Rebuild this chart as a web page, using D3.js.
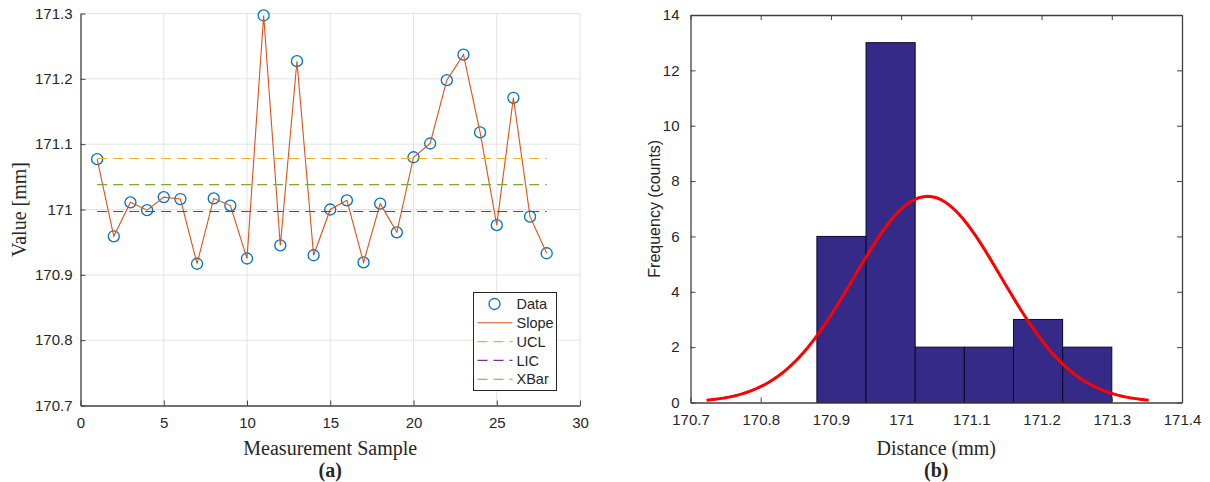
<!DOCTYPE html>
<html>
<head>
<meta charset="utf-8">
<script src="https://cdn.jsdelivr.net/npm/d3@7"></script>
<style>
  html, body { margin: 0; padding: 0; background: #fff; }
  svg { display: block; }
  .tick-label { font-family: "Liberation Sans", Arial, sans-serif; font-size: 15px; fill: #262626; }
  .legend-label { font-family: "Liberation Sans", Arial, sans-serif; font-size: 14.5px; fill: #262626; }
  .serif-title { font-family: "Liberation Serif", "Times New Roman", serif; font-size: 20px; fill: #262626; }
</style>
</head>
<body>
<svg id="chart" width="1210" height="482"></svg>
<script>
// ---- measurement data (control chart) ----
const samples = [1,2,3,4,5,6,7,8,9,10,11,12,13,14,15,16,17,18,19,20,21,22,23,24,25,26,27,28];
const values = [171.077,170.959,171.011,170.999,171.019,171.016,170.917,171.017,171.006,170.925,
                171.297,170.945,171.227,170.930,171.000,171.014,170.919,171.009,170.965,171.080,
                171.101,171.198,171.237,171.118,170.976,171.171,170.989,170.933];
const ucl = 171.078;
const lic = 170.997;
const xbar = 171.038;

// axis ticks of the control chart
const xTicksA = [0,5,10,15,20,25,30];
const yTicksA = [170.7,170.8,170.9,171,171.1,171.2,171.3];

// ---- histogram of the same measurements ----
const binEdges = [170.880,170.950,171.020,171.090,171.160,171.230,171.300];
const binCounts = [6,13,2,2,3,2];
const xTicksB = [170.7,170.8,170.9,171,171.1,171.2,171.3,171.4];
const yTicksB = [0,2,4,6,8,10,12,14];

const colors = {
  data: "#0072BD", slope: "#D95319", ucl: "#EDB120", lic: "#7E2F8E", xbar: "#77AC30",
  bar: "#352A87", fit: "#FF0000", axis: "#404040", grid: "#E3E3E3", text: "#262626"
};

const svg = d3.select("#chart");
const fmt = d => String(+d.toFixed(1));

// ================= (a) control chart =================
const A = { left: 80.5, right: 580, top: 13.5, bottom: 405.5 };
const xA = d3.scaleLinear().domain([0, 30]).range([A.left, A.right]);
const yA = d3.scaleLinear().domain([170.7, 171.3]).range([A.bottom, A.top]);
const gA = svg.append("g");

// grid
gA.append("g").selectAll("line").data(xTicksA.slice(1)).join("line")
  .attr("x1", d => xA(d)).attr("x2", d => xA(d)).attr("y1", A.top).attr("y2", A.bottom)
  .attr("stroke", colors.grid).attr("stroke-width", 1);
gA.append("g").selectAll("line").data(yTicksA.slice(1)).join("line")
  .attr("x1", A.left).attr("x2", A.right).attr("y1", d => yA(d)).attr("y2", d => yA(d))
  .attr("stroke", colors.grid).attr("stroke-width", 1);

// axes (ticks inward)
const axBottomA = gA.append("g").attr("transform", `translate(0,${A.bottom})`)
  .call(d3.axisBottom(xA).tickValues(xTicksA).tickSizeInner(-5).tickSizeOuter(0).tickPadding(12).tickFormat(d3.format("d")));
const axLeftA = gA.append("g").attr("transform", `translate(${A.left},0)`)
  .call(d3.axisLeft(yA).tickValues(yTicksA).tickSizeInner(-5).tickSizeOuter(0).tickPadding(8).tickFormat(fmt));
[axBottomA, axLeftA].forEach(ax => {
  ax.attr("font-size", null).attr("font-family", null);
  ax.select(".domain").attr("stroke", colors.axis).attr("stroke-width", 1.3);
  ax.selectAll(".tick line").attr("stroke", colors.axis);
  ax.selectAll(".tick text").attr("class", "tick-label");
});

// data markers
gA.append("g").selectAll("circle").data(samples).join("circle")
  .attr("cx", (d) => xA(d)).attr("cy", (d, i) => yA(values[i])).attr("r", 5.5)
  .attr("fill", "none").attr("stroke", colors.data).attr("stroke-width", 1.3);

// connecting line
const lineA = d3.line().x(d => xA(d[0])).y(d => yA(d[1]));
gA.append("path").datum(samples.map((s, i) => [s, values[i]]))
  .attr("d", lineA).attr("fill", "none").attr("stroke", colors.slope).attr("stroke-width", 1.1);

// control limits
const limits = [[ucl, colors.ucl], [lic, colors.lic], [xbar, colors.xbar]];
gA.append("g").selectAll("line").data(limits).join("line")
  .attr("x1", xA(samples[0])).attr("x2", xA(samples[samples.length - 1]))
  .attr("y1", d => yA(d[0])).attr("y2", d => yA(d[0]))
  .attr("stroke", d => d[1]).attr("stroke-width", 1.1).attr("stroke-dasharray", "10,6");

// legend
const legendItems = [
  { label: "Data", type: "marker", color: colors.data },
  { label: "Slope", type: "solid", color: colors.slope },
  { label: "UCL", type: "dash", color: colors.ucl },
  { label: "LIC", type: "dash", color: colors.lic },
  { label: "XBar", type: "dash", color: colors.xbar }
];
const leg = gA.append("g").attr("transform", "translate(473.5,292.5)");
leg.append("rect").attr("width", 83).attr("height", 98)
  .attr("fill", "#fff").attr("stroke", colors.text).attr("stroke-width", 1);
legendItems.forEach((it, i) => {
  const y = 11.5 + i * 18.8;
  const row = leg.append("g").attr("transform", `translate(0,${y})`);
  if (it.type === "marker") {
    row.append("circle").attr("cx", 21).attr("cy", 0).attr("r", 5.5)
      .attr("fill", "none").attr("stroke", it.color).attr("stroke-width", 1.3);
  } else {
    row.append("line").attr("x1", 4).attr("x2", 39).attr("y1", 0).attr("y2", 0)
      .attr("stroke", it.color).attr("stroke-width", 1.1)
      .attr("stroke-dasharray", it.type === "dash" ? "10,6" : null);
  }
  row.append("text").attr("class", "legend-label").attr("x", 43).attr("y", 0)
    .attr("dy", "0.36em").text(it.label);
});

// titles
gA.append("text").attr("class", "serif-title").attr("text-anchor", "middle")
  .attr("x", (A.left + A.right) / 2).attr("y", 455).text("Measurement Sample");
gA.append("text").attr("class", "serif-title").attr("text-anchor", "middle")
  .attr("transform", `translate(26,${(A.top + A.bottom) / 2}) rotate(-90)`).text("Value [mm]");
gA.append("text").attr("class", "serif-title").attr("text-anchor", "middle").attr("font-weight", "bold")
  .attr("x", (A.left + A.right) / 2).attr("y", 477).text("(a)");

// ================= (b) histogram with normal fit =================
const B = { left: 690.5, right: 1182, top: 15, bottom: 402.5 };
const xB = d3.scaleLinear().domain([170.7, 171.4]).range([B.left, B.right]);
const yB = d3.scaleLinear().domain([0, 14]).range([B.bottom, B.top]);
const gB = svg.append("g");

// bars
gB.append("g").selectAll("rect").data(binCounts).join("rect")
  .attr("x", (d, i) => xB(binEdges[i]))
  .attr("width", (d, i) => xB(binEdges[i + 1]) - xB(binEdges[i]))
  .attr("y", d => yB(d)).attr("height", d => yB(0) - yB(d))
  .attr("fill", colors.bar).attr("stroke", "#0a0a2a").attr("stroke-width", 1);

// normal fit from the sample mean and standard deviation, scaled to counts
const mu = d3.mean(values);
const sigma = d3.deviation(values);
const binWidth = (binEdges[binEdges.length - 1] - binEdges[0]) / binCounts.length;
const scale = values.length * binWidth;
const fitX = d3.range(0, 101).map(k => mu - 3 * sigma + k * (6 * sigma / 100));
const fitPts = fitX.map(x => [x, scale * Math.exp(-0.5 * ((x - mu) / sigma) ** 2) / (sigma * Math.sqrt(2 * Math.PI))]);
gB.append("path").datum(fitPts)
  .attr("d", d3.line().x(d => xB(d[0])).y(d => yB(d[1])))
  .attr("fill", "none").attr("stroke", colors.fit).attr("stroke-width", 3);

// box axes with inward ticks on all sides
const axB = [
  gB.append("g").attr("transform", `translate(0,${B.bottom})`)
    .call(d3.axisBottom(xB).tickValues(xTicksB).tickSizeInner(-5).tickSizeOuter(0).tickPadding(12).tickFormat(fmt)),
  gB.append("g").attr("transform", `translate(0,${B.top})`)
    .call(d3.axisTop(xB).tickValues(xTicksB).tickSizeInner(-5).tickSizeOuter(0).tickFormat("")),
  gB.append("g").attr("transform", `translate(${B.left},0)`)
    .call(d3.axisLeft(yB).tickValues(yTicksB).tickSizeInner(-5).tickSizeOuter(0).tickPadding(11).tickFormat(d3.format("d"))),
  gB.append("g").attr("transform", `translate(${B.right},0)`)
    .call(d3.axisRight(yB).tickValues(yTicksB).tickSizeInner(-5).tickSizeOuter(0).tickFormat(""))
];
axB.forEach(ax => {
  ax.attr("font-size", null).attr("font-family", null);
  ax.select(".domain").attr("stroke", colors.axis).attr("stroke-width", 1.3);
  ax.selectAll(".tick line").attr("stroke", colors.axis);
  ax.selectAll(".tick text").attr("class", "tick-label");
});

// titles
gB.append("text").attr("class", "serif-title").attr("text-anchor", "middle")
  .attr("x", (B.left + B.right) / 2).attr("y", 455).text("Distance (mm)");
gB.append("text").attr("class", "tick-label").attr("text-anchor", "middle").style("font-size", "16px")
  .attr("transform", `translate(660,${(B.top + B.bottom) / 2}) rotate(-90)`).text("Frequency (counts)");
gB.append("text").attr("class", "serif-title").attr("text-anchor", "middle").attr("font-weight", "bold")
  .attr("x", (B.left + B.right) / 2).attr("y", 477).text("(b)");
</script>
</body>
</html>
